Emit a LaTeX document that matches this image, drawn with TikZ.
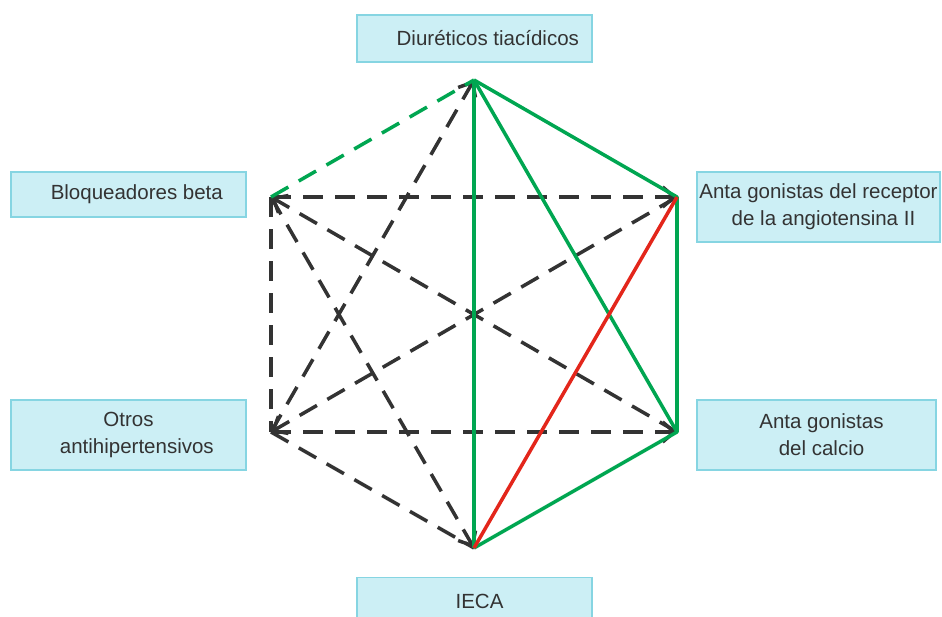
\documentclass[tikz,border=0pt]{standalone}
\usepackage{fontspec}
\setmainfont{Liberation Sans}
\usetikzlibrary{arrows.meta}
\definecolor{boxfill}{HTML}{CCEFF5}
\definecolor{boxline}{HTML}{86D5E2}
\definecolor{okgreen}{HTML}{00A651}
\definecolor{nored}{HTML}{E3261B}
\definecolor{txtgray}{HTML}{333333}
\tikzset{
  drugbox/.style={draw=boxline, line width=0.9pt, fill=boxfill, text=txtgray,
    align=center, inner sep=0pt, minimum width=7.05cm,
    font=\fontsize{17.5}{23}\selectfont},
  good/.style={okgreen, line width=3pt},
  fair/.style={okgreen, line width=3pt, dash pattern=on 0.6cm off 0.36cm},
  poss/.style={txtgray, line width=3pt, dash pattern=on 0.6cm off 0.36cm},
  possarr/.style={poss, -{Straight Barb[length=3.5mm,width=6mm]}},
  bad/.style={nored, line width=3pt},
}

\begin{document}
\begin{tikzpicture}[x=0.03cm,y=-0.03cm]
\useasboundingbox (0,0) rectangle (942,617);
\node[drugbox, minimum height=1.41cm] (dtbox) at (474.5,38.5) {\hspace*{0.8cm}Diuréticos tiacídicos};
\node[drugbox, minimum height=1.35cm] (bbbox) at (128.5,194.5) {\hspace*{0.5cm}Bloqueadores beta};
\node[drugbox, minimum height=2.1cm, minimum width=7.29cm] (arabox) at (818.5,207) {Anta gonistas del receptor\\\hspace*{0.3cm}de la angiotensina II};
\node[drugbox, minimum height=2.1cm] (otbox) at (128.5,435) {Otros\\\hspace*{0.5cm}antihipertensivos};
\node[drugbox, minimum height=2.1cm, minimum width=7.17cm] (acbox) at (816.5,435) {\hspace*{0.3cm}Anta gonistas\\\hspace*{0.3cm}del calcio};
\node[drugbox, minimum height=1.41cm] (iecabox) at (474.5,601) {\hspace*{0.3cm}IECA};
\coordinate (dt) at (474,80);
\coordinate (ara) at (677,197);
\coordinate (ac) at (677,432);
\coordinate (ieca) at (474,548);
\coordinate (ot) at (271,432);
\coordinate (bb) at (271,197);
\draw[poss] (bb) -- (ot);
\draw[poss] (ot) -- (ieca);
\draw[possarr] (bb) -- (ara);
\draw[possarr] (ot) -- (ac);
\draw[possarr] (ac) -- (bb);
\draw[possarr] (ara) -- (ot);
\draw[possarr] (bb) -- (ieca);
\draw[possarr] (ot) -- (dt);
\draw[fair] (bb) -- (dt);
\draw[good] (dt) -- (ieca);
\draw[good] (dt) -- (ac);
\draw[good, line join=round] (dt) -- (ara) -- (ac) -- (ieca);
\draw[bad] (ara) -- (ieca);
\end{tikzpicture}
\end{document}
